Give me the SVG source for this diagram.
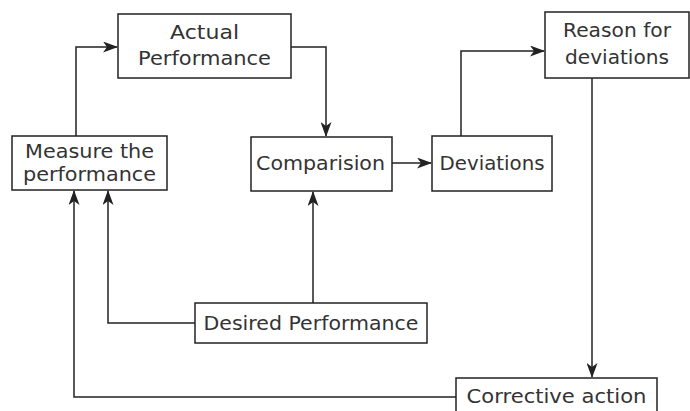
<svg xmlns="http://www.w3.org/2000/svg" width="690" height="411" viewBox="0 0 690 411">
<defs>
<marker id="arr" viewBox="0 0 15 11" refX="14" refY="5.5" markerWidth="15" markerHeight="11" markerUnits="userSpaceOnUse" orient="auto">
<path d="M0,0 L15,5.5 L0,11 L4,5.5 Z" fill="#222"/>
</marker>
<style>
.box{fill:#fff;stroke:#222;stroke-width:1.5}
.t{font-family:"DejaVu Sans","Liberation Sans",sans-serif;font-size:19.5px;fill:#333;text-anchor:middle}
.c{fill:none;stroke:#222;stroke-width:1.5}
</style>
</defs>
<rect width="690" height="411" fill="#fff"/>
<g id="connectors">
<path class="c" d="M76,136 V47 H117" marker-end="url(#arr)"/>
<path class="c" d="M291,47 H326 V136" marker-end="url(#arr)"/>
<path class="c" d="M392,163 H431" marker-end="url(#arr)"/>
<path class="c" d="M461,136 V51 H544" marker-end="url(#arr)"/>
<path class="c" d="M592,78 V377" marker-end="url(#arr)"/>
<path class="c" d="M195,323 H108 V191" marker-end="url(#arr)"/>
<path class="c" d="M313,303 V192" marker-end="url(#arr)"/>
<path class="c" d="M456,397 H74 V191" marker-end="url(#arr)"/>
</g>
<g id="actual">
<rect class="box" x="118" y="14" width="173" height="64"/>
<text class="t" x="204.5" y="39" textLength="69" lengthAdjust="spacingAndGlyphs">Actual</text>
<text class="t" x="204.5" y="65" textLength="133" lengthAdjust="spacingAndGlyphs">Performance</text>
</g>
<g id="measure">
<rect class="box" x="12" y="136" width="155" height="54"/>
<text class="t" x="89.5" y="158" textLength="129" lengthAdjust="spacingAndGlyphs">Measure the</text>
<text class="t" x="89.5" y="181" textLength="133" lengthAdjust="spacingAndGlyphs">performance</text>
</g>
<g id="comparision">
<rect class="box" x="251" y="137" width="141" height="54"/>
<text class="t" x="320.5" y="170" textLength="129" lengthAdjust="spacingAndGlyphs">Comparision</text>
</g>
<g id="deviations">
<rect class="box" x="432" y="136" width="120" height="55"/>
<text class="t" x="492" y="170" textLength="105" lengthAdjust="spacingAndGlyphs">Deviations</text>
</g>
<g id="reason">
<rect class="box" x="545" y="12" width="144" height="66"/>
<text class="t" x="617" y="37" textLength="108" lengthAdjust="spacingAndGlyphs">Reason for</text>
<text class="t" x="617" y="64" textLength="104" lengthAdjust="spacingAndGlyphs">deviations</text>
</g>
<g id="desired">
<rect class="box" x="195" y="303" width="232" height="40"/>
<text class="t" x="311" y="330" textLength="215" lengthAdjust="spacingAndGlyphs">Desired Performance</text>
</g>
<g id="corrective">
<rect class="box" x="456" y="378" width="201" height="40"/>
<text class="t" x="556.5" y="403" textLength="180" lengthAdjust="spacingAndGlyphs">Corrective action</text>
</g>
</svg>
